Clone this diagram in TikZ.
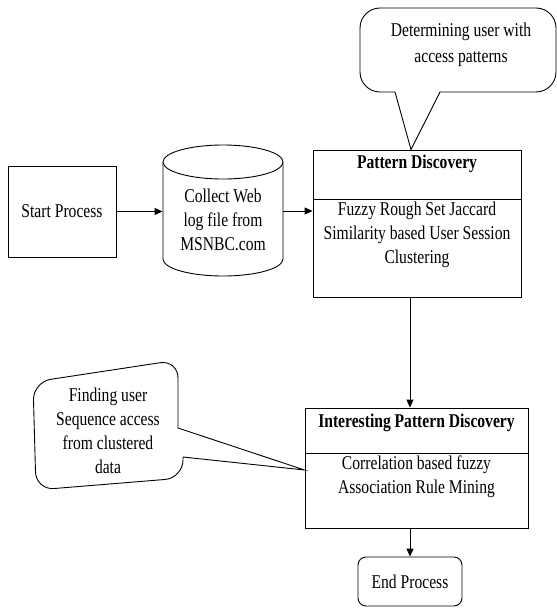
\documentclass[tikz,border=0pt]{standalone}
\usepackage{fontspec}
\setmainfont{Liberation Serif}[FakeStretch=0.8]
\usetikzlibrary{arrows.meta}
\begin{document}
\begin{tikzpicture}[x=1pt,y=-1pt, line width=0.9pt,
  box/.style={draw, rectangle, inner sep=0pt},
  txt/.style={align=center, font=\fontsize{19.5}{24}\selectfont, inner sep=0pt},
  ttl/.style={align=center, font=\fontsize{19.5}{24}\selectfont\bfseries, inner sep=0pt},
  arr/.style={-{Triangle[length=8pt,width=7pt]}}]
\useasboundingbox (0,0) rectangle (557,608);

% start
\node[box, txt, minimum width=108pt, minimum height=91pt] (start) at (62,211.5) {Start Process};

% cylinder
\node[inner sep=0pt, minimum width=120pt, minimum height=131pt] (cyl) at (223,210.5) {};
\draw (223,162) ellipse[x radius=60pt, y radius=17pt];
\draw (163,162) -- (163,259) arc[start angle=180, end angle=360, x radius=60pt, y radius=17pt] -- (283,162);
\node[txt] (cylt) at (223,220) {Collect Web\\log file from\\MSNBC.com};

% pattern discovery
\node[box, minimum width=208pt, minimum height=147pt] (pd) at (417,223.5) {};
\draw (pd.west |- 0,199) -- (pd.east |- 0,199);
\node[ttl] (pdt) at (417,164) {Pattern Discovery};
\node[txt] (pdb) at (417,235) {Fuzzy Rough Set Jaccard\\Similarity based User Session\\Clustering};

% interesting pattern discovery
\node[box, minimum width=223pt, minimum height=120pt] (ipd) at (416.5,468) {};
\draw (ipd.west |- 0,453) -- (ipd.east |- 0,453);
\node[ttl] (ipdt) at (416.5,423) {Interesting Pattern Discovery};
\node[txt] (ipdb) at (416.5,477) {Correlation based fuzzy\\Association Rule Mining};

% end
\node[draw, txt, rounded corners=8pt, minimum width=104pt, minimum height=49pt] (end) at (410,581.5) {End Process};

% arrows
\draw[arr] (start.east) -- (start.east -| cyl.west);
\draw[arr] (cyl.east |- 0,211) -- (pd.west |- 0,211);
\draw[arr] (pd.south -| end.north) -- (ipd.north -| end.north);
\draw[arr] (ipd.south -| end.north) -- (end.north);

% callout 1
\coordinate (c1tip) at (pd.north -| 411,0);
\draw (440,92) [rounded corners=20pt] -- (556,92) -- (556,8) -- (360,8) -- (360,92) [sharp corners] -- (395,92) -- (c1tip) -- cycle;
\node[txt, font=\fontsize{19.5}{26}\selectfont] (c1t) at (461,45) {Determining user with\\access patterns};

% callout 2
\coordinate (c2tip) at (ipd.west |- 0,470);
\draw (178,428) [rounded corners=18pt] -- (178,360) -- (33,382) -- (36,490) -- (183,478) [sharp corners] -- (183,457) -- (c2tip) -- cycle;
\node[txt] (c2t) at (108,431) {Finding user\\Sequence access\\from clustered\\data};
\end{tikzpicture}
\end{document}
